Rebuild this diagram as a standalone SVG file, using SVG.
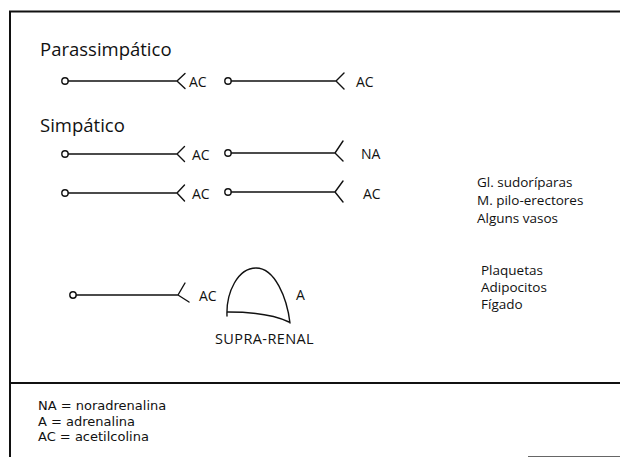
<svg xmlns="http://www.w3.org/2000/svg" width="620" height="457" viewBox="0 0 620 457">
<style>
.t{font-family:"Open Sans","Noto Sans","DejaVu Sans",sans-serif;fill:#111}
.h{font-size:18.5px}
.l{font-size:14px}
.r{font-size:13.5px}
.s{font-size:14.5px;letter-spacing:0.4px}
.g{font-family:"DejaVu Sans","Open Sans",sans-serif;font-size:13px;fill:#111}
.ln{stroke:#111;stroke-width:1.4;fill:none;stroke-linecap:round;stroke-linejoin:round}
.c{stroke:#111;stroke-width:1.4;fill:#fff}
.fr{stroke:#111;stroke-width:2;fill:none}
</style>
<rect width="620" height="457" fill="#fff"/>
<g id="frame">
<path class="fr" d="M10,11.5 H620 M10,10.5 V457 M10,383 H620"/>
<path d="M528,456.5 H620" stroke="#666" stroke-width="1" fill="none"/>
</g>
<g id="titles">
<text class="t h" x="40" y="56">Parassimpático</text>
<text class="t h" x="40" y="132">Simpático</text>
</g>
<g id="connectors">
<g id="para1"><circle class="c" cx="65" cy="81" r="3.2"/><path class="ln" d="M68.2,81 H177 M185,73.5 L177,81 L185,88.5"/><text class="t l" x="189" y="87">AC</text></g>
<g id="para2"><circle class="c" cx="228" cy="81" r="3.2"/><path class="ln" d="M231.2,81 H336 M344,73 L336,81 L344,89"/><text class="t l" x="356" y="87">AC</text></g>
<g id="sim1a"><circle class="c" cx="65" cy="154" r="3.2"/><path class="ln" d="M68.2,154 H177 M184.5,146.5 L177,154 L184.5,161.5"/><text class="t l" x="192" y="160">AC</text></g>
<g id="sim1b"><circle class="c" cx="228" cy="153" r="3.2"/><path class="ln" d="M231.2,153 H335 M343,141 L335,153 L343,161"/><text class="t l" x="361" y="159">NA</text></g>
<g id="sim2a"><circle class="c" cx="65" cy="193" r="3.2"/><path class="ln" d="M68.2,193 H177 M184.5,185 L177,193 L184.5,201"/><text class="t l" x="192" y="199">AC</text></g>
<g id="sim2b"><circle class="c" cx="228" cy="192" r="3.2"/><path class="ln" d="M231.2,192 H335 M343,181 L335,192 L343,202"/><text class="t l" x="363" y="199">AC</text></g>
<g id="sim3"><circle class="c" cx="73" cy="295" r="3.2"/><path class="ln" d="M76.2,295 H178 M185,283 L178,295 L189,302"/><text class="t l" x="199" y="301">AC</text></g>
</g>
<g id="suprarenal">
<path class="ln" d="M227,316 C226,292 238,268 256,268 C275,268 287,298 290,323 M228,312 Q268,312 289,322"/>
<text class="t l" x="296" y="300">A</text>
<text class="t s" x="215" y="344">SUPRA-RENAL</text>
</g>
<g id="targets1">
<text class="t r" x="477" y="187">Gl. sudoríparas</text>
<text class="t r" x="477" y="205">M. pilo-erectores</text>
<text class="t r" x="477" y="223">Alguns vasos</text>
</g>
<g id="targets2">
<text class="t r" x="481" y="275">Plaquetas</text>
<text class="t r" x="481" y="292">Adipocitos</text>
<text class="t r" x="481" y="309">Fígado</text>
</g>
<g id="legend">
<text class="g" x="38" y="410">NA = noradrenalina</text>
<text class="g" x="38" y="425.5">A = adrenalina</text>
<text class="g" x="38" y="441">AC = acetilcolina</text>
</g>
</svg>
